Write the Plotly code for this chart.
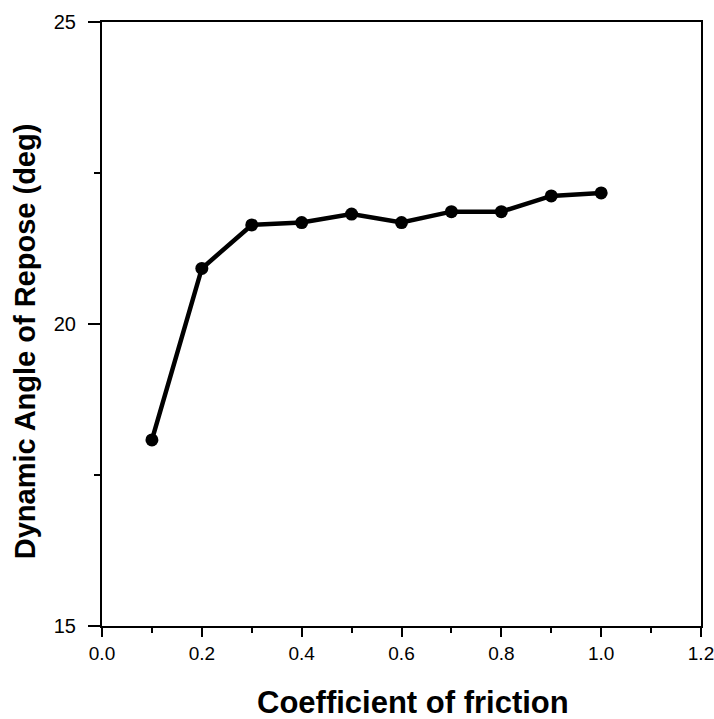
import plotly.graph_objects as go

friction = [0.1, 0.2, 0.3, 0.4, 0.5, 0.6, 0.7, 0.8, 0.9, 1.0]
angle = [18.08, 20.92, 21.64, 21.68, 21.82, 21.68, 21.86, 21.86, 22.12, 22.17]

x_ticks = [0.0, 0.2, 0.4, 0.6, 0.8, 1.0, 1.2]
x_tick_text = ["0.0", "0.2", "0.4", "0.6", "0.8", "1.0", "1.2"]
y_ticks = [15, 20, 25]
x_title = "Coefficient of friction"
y_title = "Dynamic Angle of Repose (deg)"

fig = go.Figure()
fig.add_trace(go.Scatter(
    x=friction, y=angle, mode="lines+markers",
    line=dict(color="black", width=4.5),
    marker=dict(color="black", size=13),
    showlegend=False,
    cliponaxis=False,
))

font_family = "Liberation Sans, Arial, sans-serif"
fig.update_layout(
    width=714, height=719,
    margin=dict(l=102, r=13, t=22, b=93),
    paper_bgcolor="white", plot_bgcolor="white",
    font=dict(family=font_family, color="black", size=20),
    xaxis=dict(
        range=[0, 1.2], tickvals=x_ticks, ticktext=x_tick_text,
        showgrid=False, zeroline=False, automargin=False,
        showline=True, linecolor="black", linewidth=2, mirror=True,
        ticks="outside", ticklen=9, tickwidth=2, tickcolor="black",
        minor=dict(dtick=0.1, ticks="outside", ticklen=5, tickwidth=1.5, tickcolor="black"),
        tickfont=dict(size=19), ticklabeloverflow="allow",
    ),
    yaxis=dict(
        range=[15, 25], tickvals=y_ticks,
        showgrid=False, zeroline=False, automargin=False,
        showline=True, linecolor="black", linewidth=2, mirror=True,
        ticks="outside", ticklen=12, tickwidth=2, tickcolor="black",
        minor=dict(dtick=2.5, ticks="outside", ticklen=6, tickwidth=1.5, tickcolor="black"),
        tickfont=dict(size=20), ticklabelstandoff=8, ticklabeloverflow="allow",
    ),
    annotations=[
        dict(text="<b>" + x_title + "</b>", xref="paper", yref="paper",
             x=0.52, y=-0.126, xanchor="center", yanchor="middle",
             showarrow=False, font=dict(size=31)),
        dict(text="<b>" + y_title + "</b>", xref="paper", yref="paper",
             x=-0.128, y=0.472, xanchor="center", yanchor="middle",
             textangle=-90, showarrow=False, font=dict(size=29)),
    ],
)

fig.write_html("out.html", config={"displayModeBar": False},
               post_script="document.body.style.margin='0px';")
